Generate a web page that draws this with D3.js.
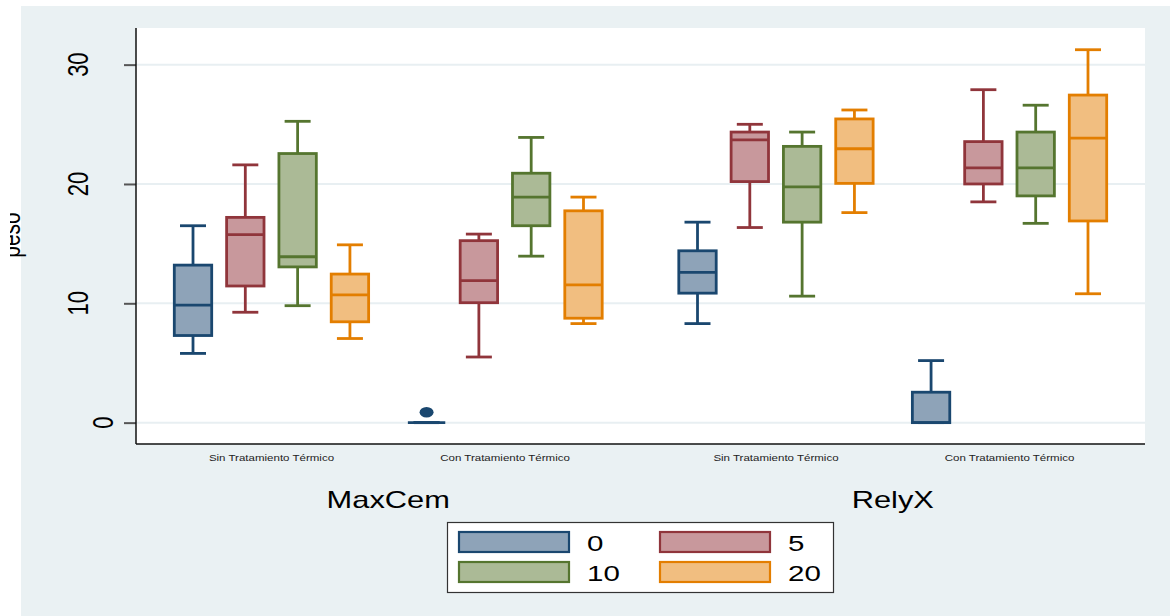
<!DOCTYPE html>
<html>
<head>
<meta charset="utf-8">
<script src="https://cdn.jsdelivr.net/npm/d3@7"></script>
<style>
  html, body { margin: 0; padding: 0; background: #ffffff; }
  svg { display: block; }
  text { font-family: "Liberation Sans", Arial, sans-serif; }
</style>
</head>
<body>
<svg id="chart" width="1170" height="616"></svg>
<script>
// ---------------- data ----------------
const cements = ["MaxCem", "RelyX"];
const treatments = ["Sin Tratamiento Térmico", "Con Tratamiento Térmico"];
const series = ["0", "5", "10", "20"];
const yTicks = [0, 10, 20, 30];
const yTitle = "peso";

// order: cement × treatment × series
const whiskerLow  = [5.8, 9.25, 9.8, 7.05,   0, 5.5, 13.95, 8.3,   8.3, 16.35, 10.6, 17.6,   0, 18.5, 16.7, 10.8];
const q1          = [7.3, 11.45, 13.05, 8.45, 0, 10.05, 16.5, 8.75,  10.85, 20.2, 16.8, 20.05,  0, 20.0, 19.0, 16.9];
const median      = [9.85, 15.75, 13.9, 10.7, 0, 11.9, 18.9, 11.55,  12.6, 23.7, 19.75, 22.95,  0, 21.35, 21.35, 23.85];
const q3          = [13.2, 17.2, 22.55, 12.45, 0, 15.25, 20.9, 17.75, 14.4, 24.35, 23.15, 25.45,  2.55, 23.55, 24.35, 27.45];
const whiskerHigh = [16.5, 21.6, 25.25, 14.9, 0, 15.8, 23.9, 18.9,   16.8, 25.0, 24.35, 26.2,   5.2, 27.9, 26.6, 31.25];

const outlierCement    = ["MaxCem"];
const outlierTreatment = ["Con Tratamiento Térmico"];
const outlierSeries    = ["0"];
const outlierValue     = [0.87];

const strokeColors = ["#1a476f", "#90353b", "#55752f", "#e37e00"];
const fillColors   = ["#8ea3b8", "#c8989c", "#abba96", "#f1be80"];

// ---------------- layout ----------------
const W = 1170, H = 616;
const panel = {x: 21, y: 6};
const plot = {left: 136, right: 1145, top: 28, bottom: 444};
const SX = 1.34; // horizontal text stretch of the original picture

const svg = d3.select("#chart");

svg.append("rect").attr("x", panel.x).attr("y", panel.y)
  .attr("width", W - panel.x).attr("height", H - panel.y).attr("fill", "#eaf1f3");
svg.append("rect").attr("x", plot.left).attr("y", plot.top)
  .attr("width", plot.right - plot.left).attr("height", plot.bottom - plot.top).attr("fill", "#ffffff");

const y = d3.scaleLinear().domain([-1.79, 33.07]).range([plot.bottom, plot.top]);

const x0 = d3.scaleBand().domain(cements).range([plot.left, plot.right]).paddingInner(0).paddingOuter(0);
const x1 = d3.scaleBand().domain(treatments).range([0, x0.bandwidth()]).paddingInner(0.168).paddingOuter(0.164);
const x2 = d3.scaleBand().domain(series).range([0, x1.bandwidth()]).paddingInner(0.285).paddingOuter(0);

// gridlines
svg.append("g").selectAll("line").data(yTicks).join("line")
  .attr("x1", plot.left).attr("x2", plot.right)
  .attr("y1", d => y(d)).attr("y2", d => y(d))
  .attr("stroke", "#e8eff2").attr("stroke-width", 2);

// y axis
const yAxis = svg.append("g").attr("transform", `translate(${plot.left},0)`)
  .call(d3.axisLeft(y).tickValues(yTicks).tickSize(12).tickFormat(""));
yAxis.select(".domain").remove();
yAxis.selectAll(".tick line").attr("stroke", "#555").attr("stroke-width", 2);

svg.append("g").selectAll("text").data(yTicks).join("text")
  .attr("transform", d => {
    const n = String(d).length;
    const bx = 113 - 25 * (n - 1);
    return `translate(${bx},${y(d)}) scale(${SX},1) rotate(-90)`;
  })
  .attr("text-anchor", "middle")
  .attr("font-size", 22)
  .attr("fill", "#000")
  .text(d => d);

// axis lines
svg.append("line").attr("x1", plot.left).attr("x2", plot.left)
  .attr("y1", plot.top).attr("y2", plot.bottom).attr("stroke", "#111").attr("stroke-width", 1.5);
svg.append("line").attr("x1", plot.left).attr("x2", plot.right)
  .attr("y1", plot.bottom).attr("y2", plot.bottom).attr("stroke", "#111").attr("stroke-width", 1.5);

// y title (clipped at the left as in the original)
svg.append("clipPath").attr("id", "ytclip").append("rect")
  .attr("x", 10).attr("y", 0).attr("width", 200).attr("height", H);
svg.append("g").attr("clip-path", "url(#ytclip)")
  .append("text")
  .attr("transform", `translate(19.5,235) scale(${SX},1) rotate(-90)`)
  .attr("text-anchor", "middle").attr("font-size", 21).attr("fill", "#000")
  .text(yTitle);

// ---------------- boxes ----------------
const records = [];
cements.forEach((c, ci) => treatments.forEach((t, ti) => series.forEach((s, si) => {
  const i = ci * treatments.length * series.length + ti * series.length + si;
  records.push({c, t, s, si, lo: whiskerLow[i], q1: q1[i], med: median[i], q3: q3[i], hi: whiskerHigh[i]});
})));

const cx = d => x0(d.c) + x1(d.t) + x2(d.s) + x2.bandwidth() / 2;
const capW = 26;
const SW = 2.8;

const g = svg.append("g");
const box = g.selectAll("g.box").data(records).join("g").attr("class", "box");

// whiskers
box.append("line")
  .attr("x1", cx).attr("x2", cx).attr("y1", d => y(d.q3)).attr("y2", d => y(d.hi))
  .attr("stroke", d => strokeColors[d.si]).attr("stroke-width", SW);
box.append("line")
  .attr("x1", cx).attr("x2", cx).attr("y1", d => y(d.q1)).attr("y2", d => y(d.lo))
  .attr("stroke", d => strokeColors[d.si]).attr("stroke-width", SW);
box.append("line")
  .attr("x1", d => cx(d) - capW / 2).attr("x2", d => cx(d) + capW / 2)
  .attr("y1", d => y(d.hi)).attr("y2", d => y(d.hi))
  .attr("stroke", d => strokeColors[d.si]).attr("stroke-width", SW);
box.append("line")
  .attr("x1", d => cx(d) - capW / 2).attr("x2", d => cx(d) + capW / 2)
  .attr("y1", d => y(d.lo)).attr("y2", d => y(d.lo))
  .attr("stroke", d => strokeColors[d.si]).attr("stroke-width", SW);
// box
box.append("rect")
  .attr("x", d => x0(d.c) + x1(d.t) + x2(d.s))
  .attr("width", x2.bandwidth())
  .attr("y", d => y(d.q3))
  .attr("height", d => Math.max(0, y(d.q1) - y(d.q3)))
  .attr("fill", d => fillColors[d.si])
  .attr("stroke", d => strokeColors[d.si]).attr("stroke-width", SW);
// median
box.append("line")
  .attr("x1", d => x0(d.c) + x1(d.t) + x2(d.s)).attr("x2", d => x0(d.c) + x1(d.t) + x2(d.s) + x2.bandwidth())
  .attr("y1", d => y(d.med)).attr("y2", d => y(d.med))
  .attr("stroke", d => strokeColors[d.si]).attr("stroke-width", SW);

// outliers
const outliers = outlierValue.map((v, i) => ({c: outlierCement[i], t: outlierTreatment[i], s: outlierSeries[i], v}));
g.selectAll("ellipse.out").data(outliers).join("ellipse").attr("class", "out")
  .attr("cx", d => x0(d.c) + x1(d.t) + x2(d.s) + x2.bandwidth() / 2)
  .attr("cy", d => y(d.v))
  .attr("rx", 7).attr("ry", 5.2)
  .attr("fill", d => strokeColors[series.indexOf(d.s)]);

// ---------------- category labels ----------------
const tLabels = [];
cements.forEach(c => treatments.forEach(t => tLabels.push({c, t})));
svg.append("g").selectAll("text").data(tLabels).join("text")
  .attr("transform", d => `translate(${x0(d.c) + x1(d.t) + x1.bandwidth() / 2},461) scale(${SX},1)`)
  .attr("text-anchor", "middle").attr("font-size", 8.6).attr("fill", "#222")
  .text(d => d.t);

svg.append("g").selectAll("text").data(cements).join("text")
  .attr("transform", d => `translate(${x0(d) + x0.bandwidth() / 2},508) scale(${SX},1)`)
  .attr("text-anchor", "middle").attr("font-size", 23).attr("fill", "#000")
  .text(d => d);

// ---------------- legend ----------------
const leg = {x: 447, y: 522, w: 386, h: 70};
svg.append("rect").attr("x", leg.x + 0.5).attr("y", leg.y + 0.5).attr("width", leg.w).attr("height", leg.h)
  .attr("fill", "#fff").attr("stroke", "#333").attr("stroke-width", 1.2);
const legItems = series.map((s, i) => ({s, i, col: i % 2, row: Math.floor(i / 2)}));
const li = svg.append("g").selectAll("g").data(legItems).join("g")
  .attr("transform", d => `translate(${leg.x + 12 + d.col * 201},${leg.y + 10 + d.row * 30})`);
li.append("rect").attr("x", 0).attr("y", 0).attr("width", 110).attr("height", 20)
  .attr("fill", d => fillColors[d.i]).attr("stroke", d => strokeColors[d.i]).attr("stroke-width", 2.2);
li.append("text")
  .attr("transform", `translate(128,19) scale(${SX},1)`)
  .attr("font-size", 22).attr("fill", "#000")
  .text(d => d.s);
</script>
</body>
</html>
